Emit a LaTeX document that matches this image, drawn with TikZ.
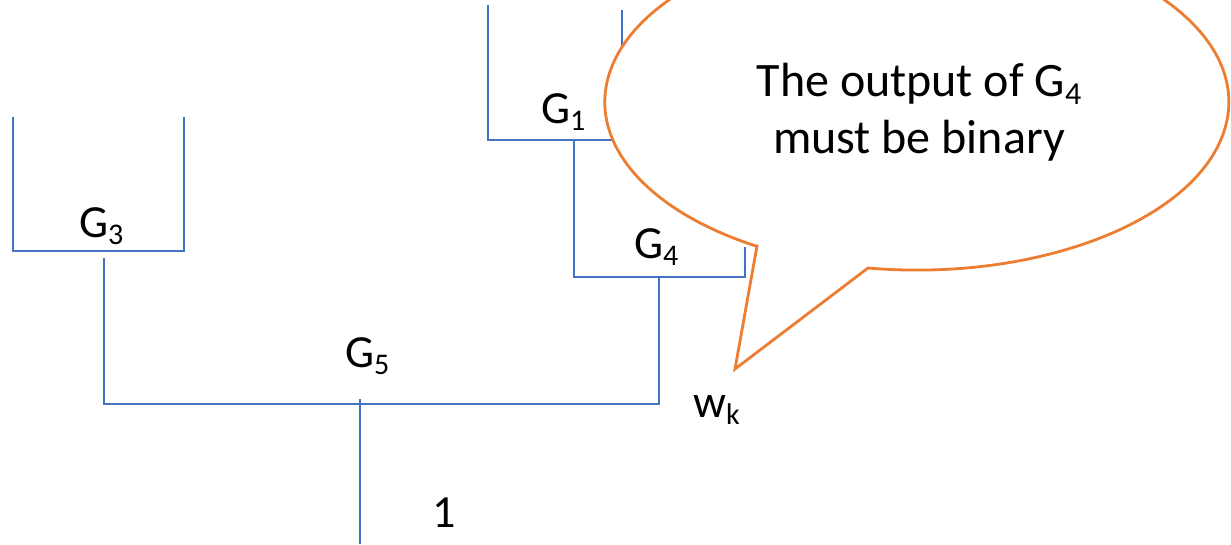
\documentclass[tikz,border=0pt]{standalone}
\usepackage{fontspec}
\setmainfont{Carlito}
\newcommand\gsub[1]{\raisebox{-0.17em}{\fontsize{30}{30}\selectfont #1}}
\newcommand\csub[1]{\raisebox{-0.17em}{\fontsize{32}{32}\selectfont #1}}
\definecolor{wireblue}{HTML}{4472C4}
\definecolor{calloutorange}{HTML}{ED7D31}
\begin{document}
\begin{tikzpicture}[x=1pt,y=1pt,
  wire/.style={draw=wireblue, line width=1.3pt},
  lbl/.style={font=\fontsize{46}{55}\selectfont, inner sep=0pt, anchor=base west},
  callout/.style={draw=calloutorange, fill=white, line width=2.8pt, line join=miter}]
\clip (0,0) rectangle (1231,-544);
% bracket corner coordinates
\coordinate (g3tl) at (13,-117);
\coordinate (g3bl) at (13,-251);
\coordinate (g3br) at (184,-251);
\coordinate (g3tr) at (184,-117);
\coordinate (g3out) at (104,-258);
\coordinate (g5l) at (104,-404);
\coordinate (g5r) at (659,-404);
\coordinate (g4out) at (659,-278);
\coordinate (g5in) at (360,-399);
\coordinate (g5out) at (360,-544);
\coordinate (g1tl) at (488,-5);
\coordinate (g1bl) at (488,-140);
\coordinate (g1br) at (622,-140);
\coordinate (g1tr) at (622,-10);
\coordinate (g1out) at (574,-140);
\coordinate (g4bl) at (574,-277);
\coordinate (g4br) at (745,-277);
\coordinate (g4tr) at (745,-247);
% wires
\draw[wire] (g3tl) -- (g3bl) -- (g3br) -- (g3tr);
\draw[wire] (g3out) -- (g5l) -- (g5r) -- (g4out);
\draw[wire] (g5in) -- (g5out);
\draw[wire] (g1tl) -- (g1bl) -- (g1br) -- (g1tr);
\draw[wire] (g1out) -- (g4bl) -- (g4br) -- (g4tr);
% labels
\node[lbl] (G3) at (79,-237) {G\gsub{3}};
\node[lbl] (G1) at (541,-123) {G\gsub{1}};
\node[lbl] (G4) at (634,-258) {G\gsub{4}};
\node[lbl] (G5) at (345,-367) {G\gsub{5}};
\node[lbl] (wk) at (693,-417) {w\gsub{k}};
\node[lbl] (one) at (432,-527) {1};
% callout
\coordinate (tip) at (735,-369);
\draw[callout] (757,-246) -- (tip) -- (868,-268)
  arc[start angle=261, end angle=599, x radius=312, y radius=168] -- cycle;
\node[font=\fontsize{48}{57}\selectfont, align=center, inner sep=0pt] (note) at (919,-112)
  {The output of G\csub{4}\\must be binary};
\end{tikzpicture}
\end{document}
